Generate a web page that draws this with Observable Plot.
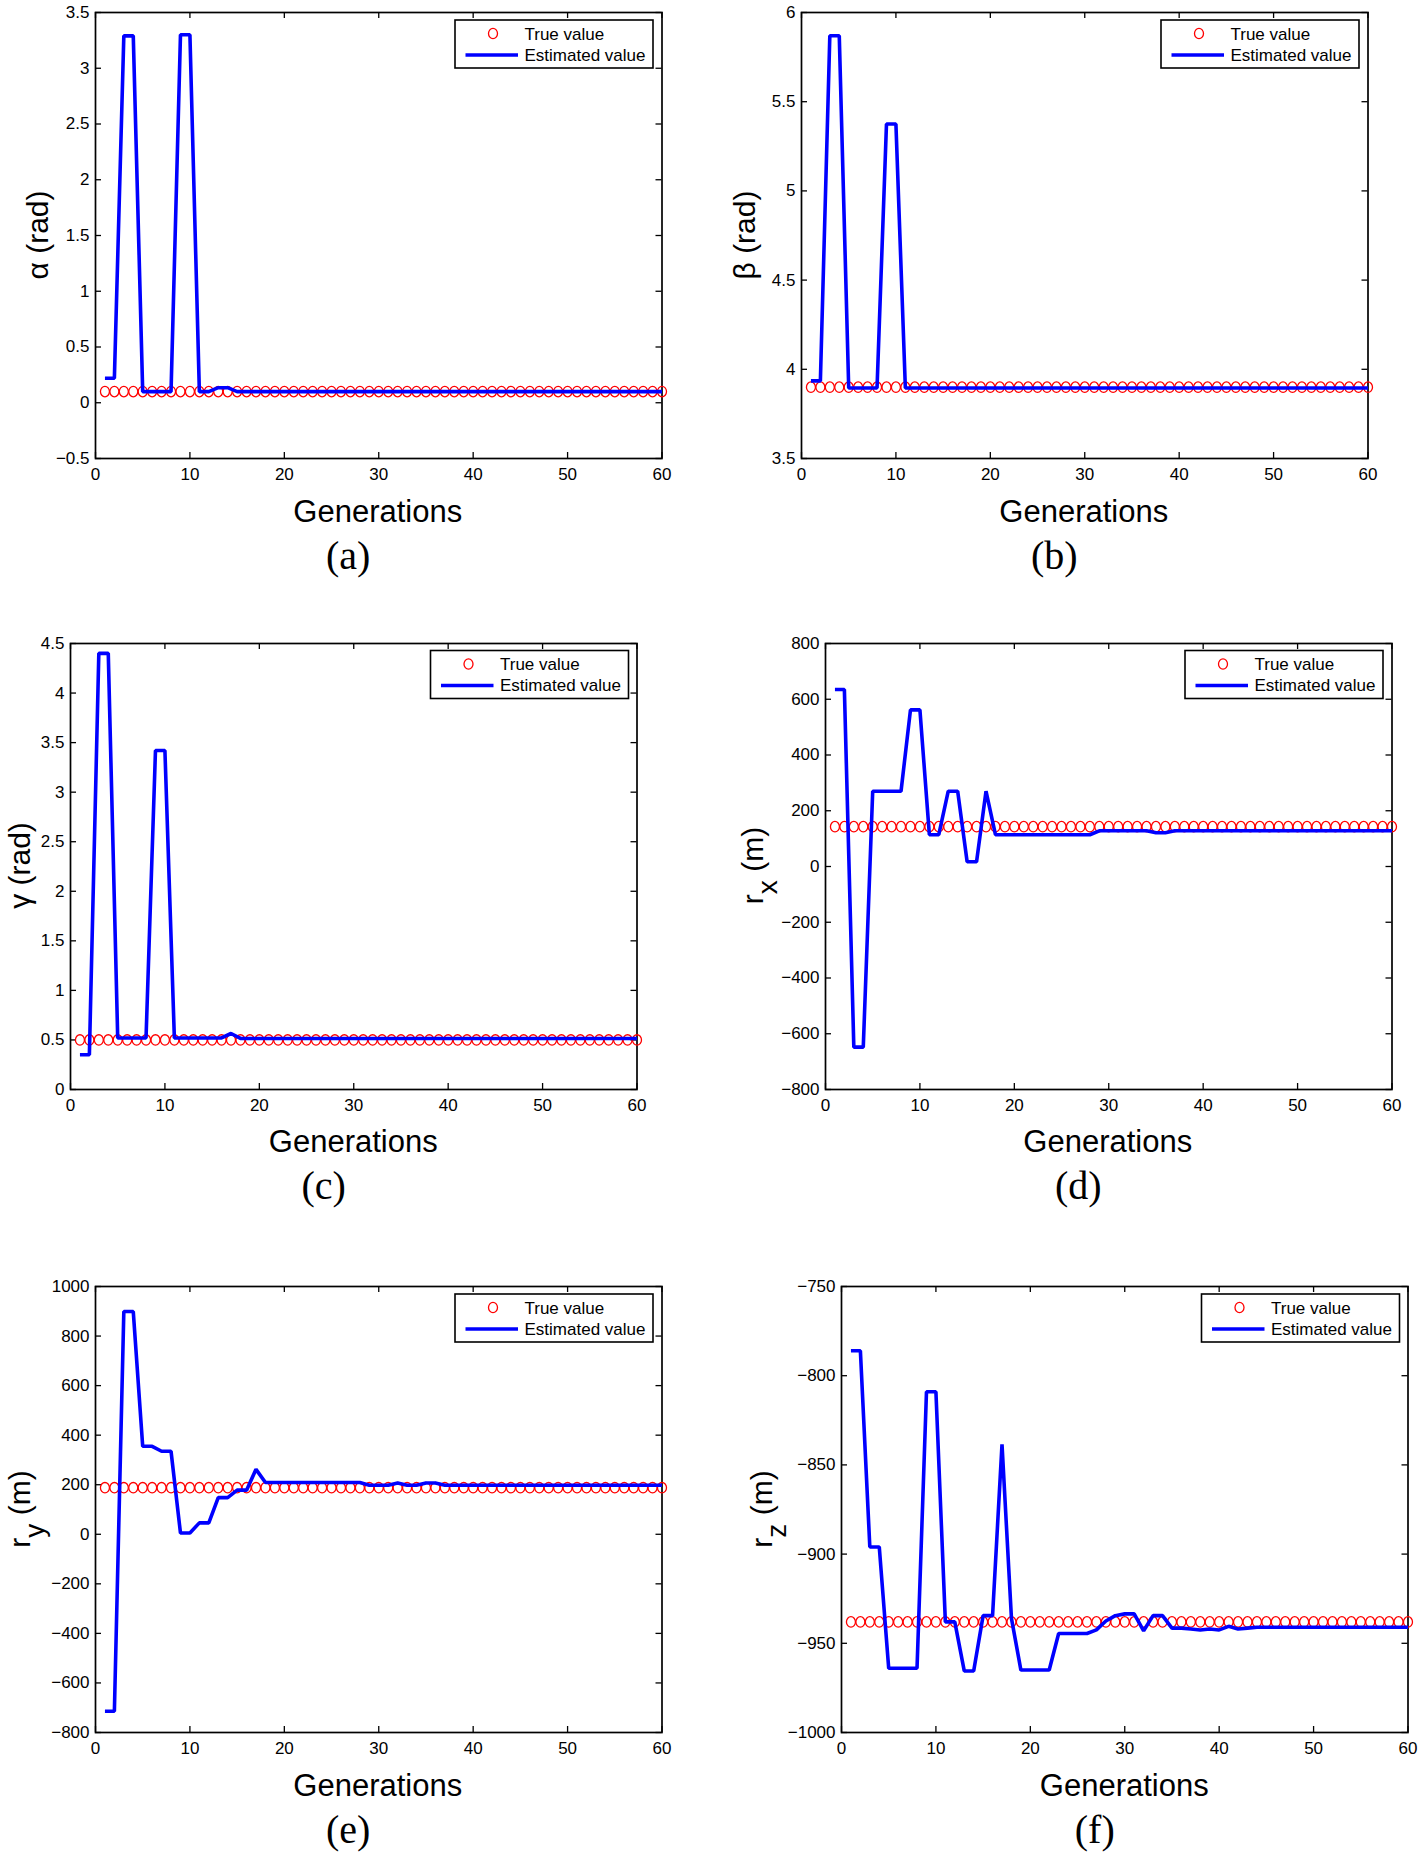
<!DOCTYPE html>
<html>
<head>
<meta charset="utf-8">
<script src="https://cdn.jsdelivr.net/npm/d3@7"></script>
<script src="https://cdn.jsdelivr.net/npm/@observablehq/plot@0.6"></script>
<style>
html,body{margin:0;padding:0;background:#fff;}
#root{position:relative;width:1424px;height:1852px;overflow:hidden;font-family:"Liberation Sans",Arial,sans-serif;}
.panel{position:absolute;}
</style>
</head>
<body>
<div id="root"></div>
<script>
// ---------------- data ----------------
const generations = [
  1,2,3,4,5,6,7,8,9,10,
  11,12,13,14,15,16,17,18,19,20,
  21,22,23,24,25,26,27,28,29,30,
  31,32,33,34,35,36,37,38,39,40,
  41,42,43,44,45,46,47,48,49,50,
  51,52,53,54,55,56,57,58,59,60
];

const alphaTrue = [
  0.1,0.1,0.1,0.1,0.1,0.1,0.1,0.1,0.1,0.1,
  0.1,0.1,0.1,0.1,0.1,0.1,0.1,0.1,0.1,0.1,
  0.1,0.1,0.1,0.1,0.1,0.1,0.1,0.1,0.1,0.1,
  0.1,0.1,0.1,0.1,0.1,0.1,0.1,0.1,0.1,0.1,
  0.1,0.1,0.1,0.1,0.1,0.1,0.1,0.1,0.1,0.1,
  0.1,0.1,0.1,0.1,0.1,0.1,0.1,0.1,0.1,0.1
];
const alphaEst = [
  0.22,0.22,3.29,3.29,0.1,0.1,0.1,0.1,3.3,3.3,
  0.1,0.1,0.135,0.135,0.1,0.1,0.1,0.1,0.1,0.1,
  0.1,0.1,0.1,0.1,0.1,0.1,0.1,0.1,0.1,0.1,
  0.1,0.1,0.1,0.1,0.1,0.1,0.1,0.1,0.1,0.1,
  0.1,0.1,0.1,0.1,0.1,0.1,0.1,0.1,0.1,0.1,
  0.1,0.1,0.1,0.1,0.1,0.1,0.1,0.1,0.1,0.1
];

const betaTrue = [
  3.9,3.9,3.9,3.9,3.9,3.9,3.9,3.9,3.9,3.9,
  3.9,3.9,3.9,3.9,3.9,3.9,3.9,3.9,3.9,3.9,
  3.9,3.9,3.9,3.9,3.9,3.9,3.9,3.9,3.9,3.9,
  3.9,3.9,3.9,3.9,3.9,3.9,3.9,3.9,3.9,3.9,
  3.9,3.9,3.9,3.9,3.9,3.9,3.9,3.9,3.9,3.9,
  3.9,3.9,3.9,3.9,3.9,3.9,3.9,3.9,3.9,3.9
];
const betaEst = [
  3.935,3.935,5.87,5.87,3.895,3.895,3.895,3.895,5.375,5.375,
  3.895,3.895,3.895,3.895,3.895,3.895,3.895,3.895,3.895,3.895,
  3.895,3.895,3.895,3.895,3.895,3.895,3.895,3.895,3.895,3.895,
  3.895,3.895,3.895,3.895,3.895,3.895,3.895,3.895,3.895,3.895,
  3.895,3.895,3.895,3.895,3.895,3.895,3.895,3.895,3.895,3.895,
  3.895,3.895,3.895,3.895,3.895,3.895,3.895,3.895,3.895,3.895
];

const gammaTrue = [
  0.5,0.5,0.5,0.5,0.5,0.5,0.5,0.5,0.5,0.5,
  0.5,0.5,0.5,0.5,0.5,0.5,0.5,0.5,0.5,0.5,
  0.5,0.5,0.5,0.5,0.5,0.5,0.5,0.5,0.5,0.5,
  0.5,0.5,0.5,0.5,0.5,0.5,0.5,0.5,0.5,0.5,
  0.5,0.5,0.5,0.5,0.5,0.5,0.5,0.5,0.5,0.5,
  0.5,0.5,0.5,0.5,0.5,0.5,0.5,0.5,0.5,0.5
];
const gammaEst = [
  0.35,0.35,4.4,4.4,0.52,0.52,0.52,0.52,3.42,3.42,
  0.52,0.52,0.52,0.52,0.52,0.52,0.565,0.515,0.515,0.515,
  0.515,0.515,0.515,0.515,0.515,0.515,0.515,0.515,0.515,0.515,
  0.515,0.515,0.515,0.515,0.515,0.515,0.515,0.515,0.515,0.515,
  0.515,0.515,0.515,0.515,0.515,0.515,0.515,0.515,0.515,0.515,
  0.515,0.515,0.515,0.515,0.515,0.515,0.515,0.515,0.515,0.515
];

const rxTrue = [
  143,143,143,143,143,143,143,143,143,143,
  143,143,143,143,143,143,143,143,143,143,
  143,143,143,143,143,143,143,143,143,143,
  143,143,143,143,143,143,143,143,143,143,
  143,143,143,143,143,143,143,143,143,143,
  143,143,143,143,143,143,143,143,143,143
];
const rxEst = [
  635,635,-648,-648,270,270,270,270,562,562,
  114,114,270,270,17,17,270,114,114,114,
  114,114,114,114,114,114,114,114,128,128,
  128,128,128,128,121,121,128,128,128,128,
  128,128,128,128,128,128,128,128,128,128,
  128,128,128,128,128,128,128,128,128,128
];

const ryTrue = [
  188,188,188,188,188,188,188,188,188,188,
  188,188,188,188,188,188,188,188,188,188,
  188,188,188,188,188,188,188,188,188,188,
  188,188,188,188,188,188,188,188,188,188,
  188,188,188,188,188,188,188,188,188,188,
  188,188,188,188,188,188,188,188,188,188
];
const ryEst = [
  -714,-714,899,899,355,355,335,335,5,5,
  46,46,148,148,178,178,262,209,209,209,
  209,209,209,209,209,209,209,209,198,198,
  198,207,198,198,207,207,198,198,198,198,
  198,198,198,198,198,198,198,198,198,198,
  198,198,198,198,198,198,198,198,198,198
];

const rzTrue = [
  -938,-938,-938,-938,-938,-938,-938,-938,-938,-938,
  -938,-938,-938,-938,-938,-938,-938,-938,-938,-938,
  -938,-938,-938,-938,-938,-938,-938,-938,-938,-938,
  -938,-938,-938,-938,-938,-938,-938,-938,-938,-938,
  -938,-938,-938,-938,-938,-938,-938,-938,-938,-938,
  -938,-938,-938,-938,-938,-938,-938,-938,-938,-938
];
const rzEst = [
  -786,-786,-896,-896,-964,-964,-964,-964,-809,-809,
  -938,-938,-965.5,-965.5,-934.5,-934.5,-838.5,-936,-965,-965,
  -965,-965,-944.5,-944.5,-944.5,-944.5,-942.5,-937.5,-934.5,-933.5,
  -933.5,-943,-934.5,-934.5,-941.5,-941.5,-942,-942.5,-942,-942.5,
  -940.5,-942,-941.5,-941,-941,-941,-941,-941,-941,-941,
  -941,-941,-941,-941,-941,-941,-941,-941,-941,-941
];

// tick labels
const xTicks = [0,10,20,30,40,50,60];
const alphaTicks = [-0.5,0,0.5,1,1.5,2,2.5,3,3.5];
const betaTicks = [3.5,4,4.5,5,5.5,6];
const gammaTicks = [0,0.5,1,1.5,2,2.5,3,3.5,4,4.5];
const rxTicks = [-800,-600,-400,-200,0,200,400,600,800];
const ryTicks = [-800,-600,-400,-200,0,200,400,600,800,1000];
const rzTicks = [-1000,-950,-900,-850,-800,-750];

const xLabel = "Generations";
const legendTrue = "True value";
const legendEst = "Estimated value";

// ---------------- layout ----------------
const FONT = '"Liberation Sans", Arial, Helvetica, sans-serif';
const W = 566.5, H = 446;
const panels = [
  {tag:"(a)", left:94.5, top:12,   est:alphaEst, tru:alphaTrue, ticks:alphaTicks, sym:"α", sub:null, lab:48},
  {tag:"(b)", left:800.5, top:12,  est:betaEst,  tru:betaTrue,  ticks:betaTicks,  sym:"β", sub:null, lab:755},
  {tag:"(c)", left:70,   top:642.5, est:gammaEst, tru:gammaTrue, ticks:gammaTicks, sym:"γ", sub:null, lab:30},
  {tag:"(d)", left:824.5, top:642.5, est:rxEst,  tru:rxTrue,    ticks:rxTicks,    sym:"r", sub:"x",  lab:763},
  {tag:"(e)", left:94.5, top:1286, est:ryEst,    tru:ryTrue,    ticks:ryTicks,    sym:"r", sub:"y",  lab:30},
  {tag:"(f)", left:841,  top:1286, est:rzEst,    tru:rzTrue,    ticks:rzTicks,    sym:"r", sub:"z",  lab:772}
];

// MATLAB-like open marker (slightly taller than wide, as in the figure)
const RX = 4.5, RY = 5.2, K = 0.5523;
const ellipseSymbol = {
  draw(ctx) {
    ctx.moveTo(RX, 0);
    ctx.bezierCurveTo(RX, K * RY, K * RX, RY, 0, RY);
    ctx.bezierCurveTo(-K * RX, RY, -RX, K * RY, -RX, 0);
    ctx.bezierCurveTo(-RX, -K * RY, -K * RX, -RY, 0, -RY);
    ctx.bezierCurveTo(K * RX, -RY, RX, -K * RY, RX, 0);
    ctx.closePath();
  }
};

const fmt = d => (d < 0 ? "\u2212" : "") + Math.abs(d);
const root = document.getElementById("root");
const mL = 75, mR = 14, mT = 10, mB = 36;

for (const p of panels) {
  const data = generations.map((g, i) => ({g, est: p.est[i], tru: p.tru[i]}));
  const svg = Plot.plot({
    width: mL + W + mR,
    height: mT + H + mB,
    marginLeft: mL, marginRight: mR, marginTop: mT, marginBottom: mB,
    x: {domain: [0, 60]},
    y: {domain: [p.ticks[0], p.ticks[p.ticks.length - 1]]},
    style: {fontFamily: FONT, fontSize: "17px", background: "transparent", overflow: "visible", color: "#000"},
    marks: [
      Plot.frame({stroke: "#000", strokeWidth: 1.7}),
      Plot.tickX(xTicks, {x: d => d, insetTop: H - 6, stroke: "#000", strokeWidth: 1.3}),
      Plot.tickX(xTicks, {x: d => d, insetBottom: H - 6, stroke: "#000", strokeWidth: 1.3}),
      Plot.tickY(p.ticks, {y: d => d, insetRight: W - 6, stroke: "#000", strokeWidth: 1.3}),
      Plot.tickY(p.ticks, {y: d => d, insetLeft: W - 6, stroke: "#000", strokeWidth: 1.3}),
      Plot.axisX(xTicks, {tickSize: 0, tickPadding: 9, label: null, tickFormat: fmt, fontSize: 17}),
      Plot.axisY(p.ticks, {tickSize: 0, tickPadding: 6, label: null, tickFormat: fmt, fontSize: 17}),
      Plot.dot(data, {x: "g", y: "tru", symbol: ellipseSymbol, r: 5, stroke: "#ff0000", strokeWidth: 1.3, fill: "none"}),
      Plot.line(data, {x: "g", y: "est", stroke: "#0000ff", strokeWidth: 3.6, strokeLinejoin: "miter", strokeLinecap: "butt"})
    ]
  });
  const wrap = document.createElement("div");
  wrap.className = "panel";
  wrap.style.left = (p.left - mL) + "px";
  wrap.style.top = (p.top - mT) + "px";
  wrap.appendChild(svg);
  root.appendChild(wrap);
}

// ---------------- text overlay: axis titles, panel tags, legends ----------------
const ov = d3.select(root).append("svg")
  .attr("width", 1424).attr("height", 1852)
  .style("position", "absolute").style("left", "0px").style("top", "0px")
  .style("font-family", FONT);

for (const p of panels) {
  const cx = p.left + W / 2, right = p.left + W, bottom = p.top + H;

  // y label (rotated)
  const t = ov.append("text")
    .attr("transform", `translate(${p.lab},${p.top + H / 2}) rotate(-90)`)
    .attr("text-anchor", "middle").attr("font-size", 30).attr("fill", "#000");
  t.append("tspan").text(p.sym);
  if (p.sub) {
    t.append("tspan").attr("dy", 14).attr("font-size", 28).text(p.sub);
    t.append("tspan").attr("dy", -14).text("\u00a0(m)");
  } else {
    t.append("tspan").text("\u00a0(rad)");
  }

  // x label
  ov.append("text").attr("x", cx).attr("y", bottom + 53)
    .attr("text-anchor", "middle").attr("dominant-baseline", "central")
    .attr("font-size", 31).attr("fill", "#000").text(xLabel);

  // panel tag
  ov.append("text").attr("x", cx - 29.5).attr("y", bottom + 97)
    .attr("text-anchor", "middle").attr("dominant-baseline", "central")
    .attr("font-family", '"Liberation Serif", "Times New Roman", serif')
    .attr("font-size", 40).attr("fill", "#000").text(p.tag);

  // legend
  const bw = 198, bh = 48;
  const L = right - 8 - bw, T = p.top + 8;
  const g = ov.append("g");
  g.append("rect").attr("x", L).attr("y", T).attr("width", bw).attr("height", bh)
    .attr("fill", "#fff").attr("stroke", "#000").attr("stroke-width", 1.6);
  g.append("ellipse").attr("cx", L + 38).attr("cy", T + 13.5).attr("rx", RX).attr("ry", RY)
    .attr("fill", "none").attr("stroke", "#ff0000").attr("stroke-width", 1.3);
  g.append("line").attr("x1", L + 10.5).attr("x2", L + 63).attr("y1", T + 35).attr("y2", T + 35)
    .attr("stroke", "#0000ff").attr("stroke-width", 3.6);
  g.append("text").attr("x", L + 69.5).attr("y", T + 14).attr("dominant-baseline", "central")
    .attr("font-size", 17).attr("fill", "#000").text(legendTrue);
  g.append("text").attr("x", L + 69.5).attr("y", T + 35).attr("dominant-baseline", "central")
    .attr("font-size", 17).attr("fill", "#000").text(legendEst);
}
</script>
</body>
</html>
